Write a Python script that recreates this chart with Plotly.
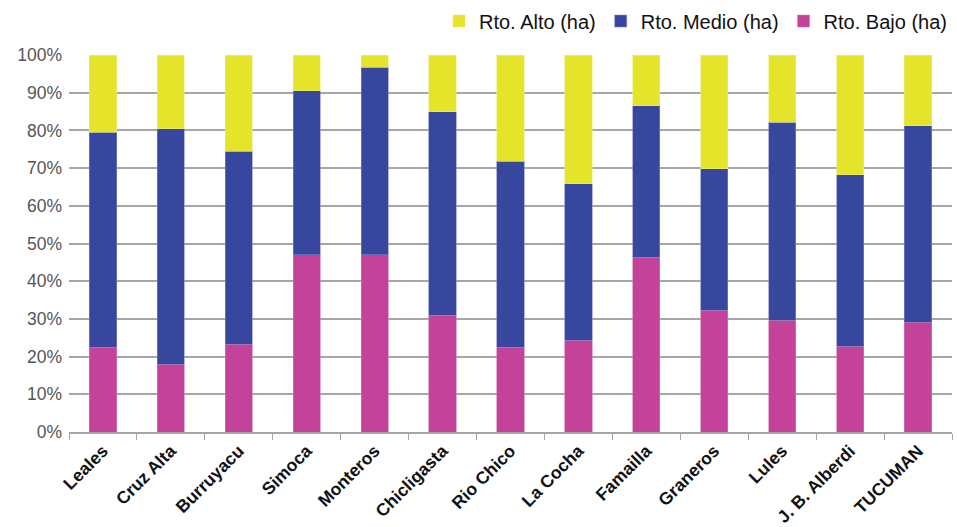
import plotly.graph_objects as go

categories = ["Leales", "Cruz Alta", "Burruyacu", "Simoca", "Monteros", "Chicligasta",
              "Rio Chico", "La Cocha", "Famailla", "Graneros", "Lules", "J. B. Alberdi", "TUCUMAN"]
bajo = [22.5, 18.0, 23.3, 47.0, 47.0, 31.0, 22.5, 24.3, 46.3, 32.3, 29.7, 22.8, 29.1]
medio_top = [79.5, 80.5, 74.5, 90.5, 96.8, 85.0, 71.8, 65.8, 86.5, 69.8, 82.2, 68.2, 81.2]
medio = [round(t - b, 1) for t, b in zip(medio_top, bajo)]
alto = [round(100 - t, 1) for t in medio_top]

fig = go.Figure()
fig.add_trace(go.Bar(x=categories, y=bajo, name="Rto. Bajo (ha)", marker_color="#C5429A",
                     marker_line=dict(color="#D67BB8", width=0.6)))
fig.add_trace(go.Bar(x=categories, y=medio, name="Rto. Medio (ha)", marker_color="#38479E",
                     marker_line=dict(color="#7C86C4", width=0.6)))
fig.add_trace(go.Bar(x=categories, y=alto, name="Rto. Alto (ha)", marker_color="#E4E42A",
                     marker_line=dict(color="#EDED80", width=0.6)))

fig.update_layout(
    barmode="stack",
    bargap=0.6,
    width=957, height=527,
    margin=dict(l=69, r=5, t=55, b=95, autoexpand=False),
    plot_bgcolor="white", paper_bgcolor="white",
    font=dict(family="Liberation Sans, Arial, sans-serif", color="#222"),
    legend=dict(orientation="h", traceorder="reversed", x=1.0, xanchor="right",
                y=1.09, yanchor="middle", font=dict(size=20, color="#111"),
                itemwidth=30),
    showlegend=True,
)
fig.update_yaxes(range=[0, 100], dtick=10, ticksuffix="%", showgrid=True,
                 gridcolor="#A6A6A6", gridwidth=1.5, zeroline=False,
                 tickfont=dict(size=17.5, color="#555"), showline=False, ticks="",
                 ticklabelstandoff=6, automargin=False)
fig.update_xaxes(tickangle=-45, showline=True, linecolor="#A6A6A6", linewidth=1.5,
                 ticks="outside", tickson="boundaries", tickcolor="#A6A6A6", ticklen=6,
                 automargin=False,
                 tickfont=dict(size=17.5, color="#111", weight="bold"))

fig.write_html("out.html")
